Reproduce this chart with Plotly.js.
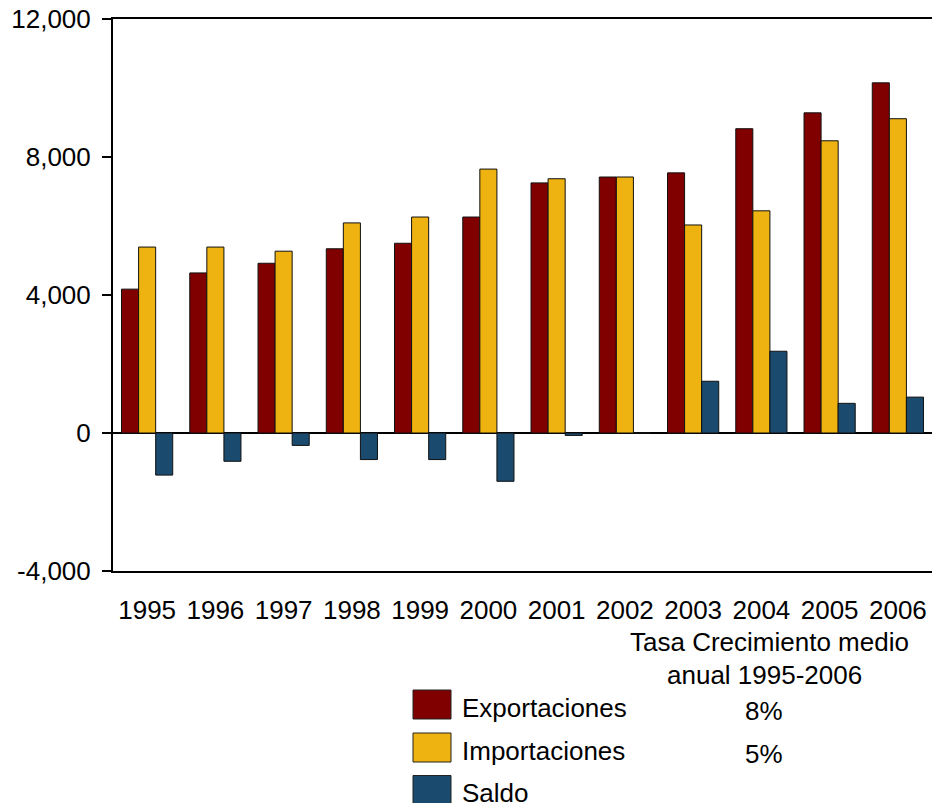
<!DOCTYPE html>
<html>
<head>
<meta charset="utf-8">
<script src="https://cdn.plot.ly/plotly-3.0.1.min.js"></script>
<style>
  html, body { margin: 0; padding: 0; background: #fff; }
  #chart { width: 932px; height: 803px; }
</style>
</head>
<body>
<div id="chart"></div>
<script>
// ---- Data ----
const years = ['1995','1996','1997','1998','1999','2000','2001','2002','2003','2004','2005','2006'];
const exportaciones = [4170, 4640, 4920, 5340, 5500, 6260, 7250, 7420, 7540, 8820, 9280, 10150];
const importaciones = [5390, 5390, 5270, 6090, 6260, 7650, 7370, 7420, 6030, 6440, 8470, 9110];
const saldo = [-1220, -820, -360, -770, -770, -1400, -70, 0, 1500, 2370, 860, 1040];
const seriesNames = ['Exportaciones', 'Importaciones', 'Saldo'];
const growthTitle = ['Tasa Crecimiento medio', 'anual 1995-2006'];
const growthRates = ['8%', '5%'];
const yTicks = [-4000, 0, 4000, 8000, 12000];
const yTickText = ['-4,000', '0', '4,000', '8,000', '12,000'];

// ---- Style ----
const colors = ['#800000', '#EEB211', '#1A4A6E'];
const FONT = '"Liberation Sans", Arial, sans-serif';
const W = 932, H = 803;
const L = 113, R = 0, T = 19, B = 232;
const PW = W - L - R, PH = H - T - B;
const px = x => (x - L) / PW;
const py = y => (H - B - y) / PH;

const seriesData = [exportaciones, importaciones, saldo];
const traces = seriesData.map((vals, i) => ({
  type: 'bar',
  name: seriesNames[i],
  x: years,
  y: vals,
  marker: { color: colors[i], line: { color: '#111', width: 1 } },
  hoverinfo: 'x+y+name'
}));

const annotations = [];
const shapes = [];

// Growth-rate header
annotations.push({ xref: 'paper', yref: 'paper', x: px(769), y: py(642), text: growthTitle[0],
  showarrow: false, xanchor: 'center', yanchor: 'middle', font: { family: FONT, size: 26, color: '#000' } });
annotations.push({ xref: 'paper', yref: 'paper', x: px(764), y: py(675), text: growthTitle[1],
  showarrow: false, xanchor: 'center', yanchor: 'middle', font: { family: FONT, size: 26, color: '#000' } });

// Legend (manual, large swatches)
const rowY = [704.5, 747.5, 790];
seriesNames.forEach((name, i) => {
  shapes.push({ type: 'rect', xref: 'paper', yref: 'paper',
    x0: px(413), x1: px(451), y0: py(rowY[i] + 14.5), y1: py(rowY[i] - 14.5),
    fillcolor: colors[i], line: { color: '#222', width: 1 } });
  annotations.push({ xref: 'paper', yref: 'paper', x: px(460), y: py(rowY[i] + 3), text: name,
    showarrow: false, xanchor: 'left', yanchor: 'middle', font: { family: FONT, size: 26, color: '#000' } });
  if (i < growthRates.length) {
    annotations.push({ xref: 'paper', yref: 'paper', x: px(764), y: py(rowY[i] + 6), text: growthRates[i],
      showarrow: false, xanchor: 'center', yanchor: 'middle', font: { family: FONT, size: 26, color: '#000' } });
  }
});

const layout = {
  width: W, height: H,
  margin: { l: L, r: R, t: T, b: B, pad: 0 },
  paper_bgcolor: '#fff', plot_bgcolor: '#fff',
  font: { family: FONT, size: 26, color: '#000' },
  barmode: 'group',
  bargap: 0.25,
  bargroupgap: 0,
  showlegend: false,
  xaxis: {
    type: 'category',
    showline: true, linecolor: '#000', linewidth: 2, mirror: true,
    ticks: '', showgrid: false, zeroline: false,
    tickfont: { family: FONT, size: 26, color: '#000' },
    ticklabelstandoff: 15
  },
  yaxis: {
    range: [-4000, 12000],
    tickmode: 'array',
    tickvals: yTicks,
    ticktext: yTickText,
    showline: true, linecolor: '#000', linewidth: 2,
    ticks: 'outside', ticklen: 9, tickwidth: 2, tickcolor: '#000',
    showgrid: false,
    zeroline: true, zerolinecolor: '#000', zerolinewidth: 2,
    tickfont: { family: FONT, size: 26, color: '#000' },
    ticklabelstandoff: 6
  },
  annotations: annotations,
  shapes: shapes
};

Plotly.newPlot('chart', traces, layout, { displayModeBar: false, staticPlot: true });
</script>
</body>
</html>
